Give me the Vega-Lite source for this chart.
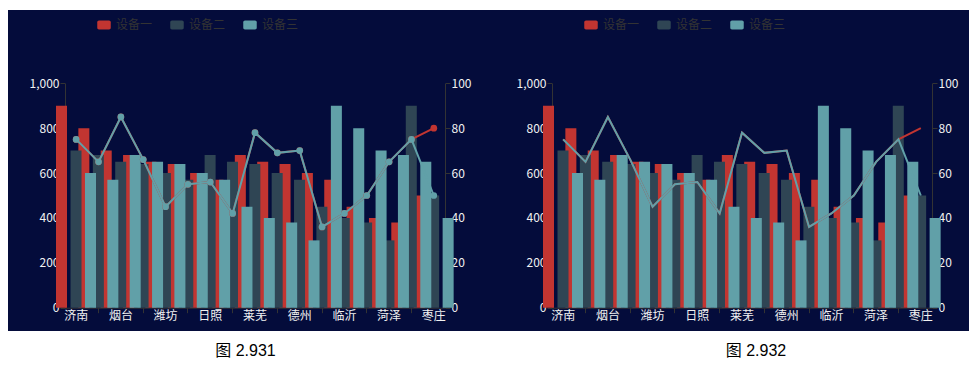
{
  "$schema": "https://vega.github.io/schema/vega-lite/v6.json",
  "background": "#ffffff",
  "padding": {"left": 8, "top": 10, "right": 0, "bottom": 0},
  "autosize": {"type": "pad"},
  "bounds": "flush",
  "spacing": 0,
  "config": {
    "font": "Noto Sans CJK SC",
    "view": {"stroke": null, "fill": "#040c3b"},
    "axis": {"labelFont": "Noto Sans CJK SC", "labelFontSize": 12, "labelColor": "#f2f2f2", "domainColor": "#333333", "tickColor": "#333333", "tickSize": 5, "grid": false, "title": null}
  },
  "datasets": {
    "bars": [
      {"city": "济南", "device": "设备一", "value": 900},
      {"city": "青岛", "device": "设备一", "value": 800},
      {"city": "烟台", "device": "设备一", "value": 700},
      {"city": "威海", "device": "设备一", "value": 680},
      {"city": "潍坊", "device": "设备一", "value": 650},
      {"city": "淄博", "device": "设备一", "value": 640},
      {"city": "日照", "device": "设备一", "value": 600},
      {"city": "东营", "device": "设备一", "value": 570},
      {"city": "莱芜", "device": "设备一", "value": 680},
      {"city": "泰安", "device": "设备一", "value": 650},
      {"city": "德州", "device": "设备一", "value": 640},
      {"city": "聊城", "device": "设备一", "value": 600},
      {"city": "临沂", "device": "设备一", "value": 570},
      {"city": "济宁", "device": "设备一", "value": 450},
      {"city": "菏泽", "device": "设备一", "value": 400},
      {"city": "滨州", "device": "设备一", "value": 380},
      {"city": "枣庄", "device": "设备一", "value": 500},
      {"city": "济南", "device": "设备二", "value": 700},
      {"city": "青岛", "device": "设备二", "value": 680},
      {"city": "烟台", "device": "设备二", "value": 650},
      {"city": "威海", "device": "设备二", "value": 640},
      {"city": "潍坊", "device": "设备二", "value": 600},
      {"city": "淄博", "device": "设备二", "value": 570},
      {"city": "日照", "device": "设备二", "value": 680},
      {"city": "东营", "device": "设备二", "value": 650},
      {"city": "莱芜", "device": "设备二", "value": 640},
      {"city": "泰安", "device": "设备二", "value": 600},
      {"city": "德州", "device": "设备二", "value": 570},
      {"city": "聊城", "device": "设备二", "value": 450},
      {"city": "临沂", "device": "设备二", "value": 400},
      {"city": "济宁", "device": "设备二", "value": 380},
      {"city": "菏泽", "device": "设备二", "value": 300},
      {"city": "滨州", "device": "设备二", "value": 900},
      {"city": "枣庄", "device": "设备二", "value": 500},
      {"city": "济南", "device": "设备三", "value": 600},
      {"city": "青岛", "device": "设备三", "value": 570},
      {"city": "烟台", "device": "设备三", "value": 680},
      {"city": "威海", "device": "设备三", "value": 650},
      {"city": "潍坊", "device": "设备三", "value": 640},
      {"city": "淄博", "device": "设备三", "value": 600},
      {"city": "日照", "device": "设备三", "value": 570},
      {"city": "东营", "device": "设备三", "value": 450},
      {"city": "莱芜", "device": "设备三", "value": 400},
      {"city": "泰安", "device": "设备三", "value": 380},
      {"city": "德州", "device": "设备三", "value": 300},
      {"city": "聊城", "device": "设备三", "value": 900},
      {"city": "临沂", "device": "设备三", "value": 800},
      {"city": "济宁", "device": "设备三", "value": 700},
      {"city": "菏泽", "device": "设备三", "value": 680},
      {"city": "滨州", "device": "设备三", "value": 650},
      {"city": "枣庄", "device": "设备三", "value": 400}
    ],
    "lines": [
      {"city": "济南", "line": "设备一", "value": 75},
      {"city": "青岛", "line": "设备一", "value": 65},
      {"city": "烟台", "line": "设备一", "value": 85},
      {"city": "威海", "line": "设备一", "value": 66},
      {"city": "潍坊", "line": "设备一", "value": 45},
      {"city": "淄博", "line": "设备一", "value": 55},
      {"city": "日照", "line": "设备一", "value": 56},
      {"city": "东营", "line": "设备一", "value": 42},
      {"city": "莱芜", "line": "设备一", "value": 78},
      {"city": "泰安", "line": "设备一", "value": 69},
      {"city": "德州", "line": "设备一", "value": 70},
      {"city": "聊城", "line": "设备一", "value": 36},
      {"city": "临沂", "line": "设备一", "value": 42},
      {"city": "济宁", "line": "设备一", "value": 50},
      {"city": "菏泽", "line": "设备一", "value": 65},
      {"city": "滨州", "line": "设备一", "value": 75},
      {"city": "枣庄", "line": "设备一", "value": 80},
      {"city": "济南", "line": "设备三", "value": 75},
      {"city": "青岛", "line": "设备三", "value": 65},
      {"city": "烟台", "line": "设备三", "value": 85},
      {"city": "威海", "line": "设备三", "value": 66},
      {"city": "潍坊", "line": "设备三", "value": 45},
      {"city": "淄博", "line": "设备三", "value": 55},
      {"city": "日照", "line": "设备三", "value": 56},
      {"city": "东营", "line": "设备三", "value": 42},
      {"city": "莱芜", "line": "设备三", "value": 78},
      {"city": "泰安", "line": "设备三", "value": 69},
      {"city": "德州", "line": "设备三", "value": 70},
      {"city": "聊城", "line": "设备三", "value": 36},
      {"city": "临沂", "line": "设备三", "value": 42},
      {"city": "济宁", "line": "设备三", "value": 50},
      {"city": "菏泽", "line": "设备三", "value": 65},
      {"city": "滨州", "line": "设备三", "value": 75},
      {"city": "枣庄", "line": "设备三", "value": 50}
    ]
  },
  "resolve": {"scale": {"x": "independent", "y": "independent", "color": "independent", "xOffset": "independent"}, "legend": {"color": "independent"}},
  "hconcat": [
    {
      "width": 487,
      "height": 321,
      "title": {"text": "图 2.931", "orient": "bottom", "anchor": "middle", "dx": -6, "offset": 12, "font": "Liberation Sans, Noto Sans CJK SC", "fontSize": 16, "fontWeight": "normal", "color": "#000000"},
      "resolve": {"scale": {"y": "independent"}, "axis": {"x": "independent"}},
      "layer": [
        {
          "data": {"name": "bars"},
          "mark": {"type": "bar"},
          "encoding": {
            "x": {"field": "city", "type": "nominal",
              "scale": {"domain": ["济南","青岛","烟台","威海","潍坊","淄博","日照","东营","莱芜","泰安","德州","聊城","临沂","济宁","菏泽","滨州","枣庄"], "range": [57, 437], "paddingInner": 0, "paddingOuter": 0},
              "axis": {"orient": "bottom", "offset": -23.3, "values": ["济南","烟台","潍坊","日照","莱芜","德州","临沂","菏泽","枣庄"], "ticks": false, "labelPadding": 3, "labelAngle": 0, "labelOverlap": false}},
            "xOffset": {"field": "device", "type": "nominal", "scale": {"domain": ["设备一","设备二","设备三"], "range": [-9, 31], "paddingInner": 0.24, "paddingOuter": 0}},
            "y": {"field": "value", "type": "quantitative", "stack": null,
              "scale": {"domain": [0, 1000], "range": [297.7, 73.3], "nice": false},
              "axis": {"orient": "left", "offset": -57, "values": [0, 200, 400, 600, 800, 1000], "format": ",.0f", "labelPadding": 1}},
            "color": {"field": "device", "type": "nominal",
              "scale": {"domain": ["设备一","设备二","设备三"], "range": ["#c23531", "#2f4554", "#61a0a8"]},
              "legend": {"orient": "none", "legendX": 89, "legendY": 8, "direction": "horizontal", "title": null, "padding": 0,
                "symbolType": "M-0.75,-0.667H0.75A0.25,0.25 0 0 1 1,-0.417V0.417A0.25,0.25 0 0 1 0.75,0.667H-0.75A0.25,0.25 0 0 1 -1,0.417V-0.417A0.25,0.25 0 0 1 -0.75,-0.667Z",
                "symbolSize": 182, "symbolStrokeWidth": 0, "symbolOpacity": 1, "labelColor": "#333333", "labelFontSize": 12, "labelFont": "Noto Sans CJK SC", "labelOffset": 5, "columnPadding": 17}}
          }
        },
        {
          "data": {"name": "lines"},
          "layer": [
            {
              "transform": [{"filter": "datum.line === '设备一'"}],
              "mark": {"type": "line", "color": "#c23531", "strokeWidth": 2, "point": {"filled": true, "size": 45, "color": "#c23531"}},
              "encoding": {
                "x": {"field": "city", "type": "nominal",
                  "axis": {"orient": "bottom", "offset": -23.3, "values": ["青岛","威海","淄博","东营","泰安","聊城","济宁","滨州"], "labels": false, "domain": false, "ticks": true}},
                "y": {"field": "value", "type": "quantitative",
                  "scale": {"domain": [0, 100], "range": [297.7, 73.3], "nice": false},
                  "axis": {"orient": "right", "offset": -50, "values": [0, 10, 20, 30, 40, 50, 60, 70, 80, 90, 100], "labelPadding": 1}}
              }
            },
            {
              "transform": [{"filter": "datum.line === '设备三'"}],
              "mark": {"type": "line", "color": "#61a0a8", "strokeWidth": 2, "point": {"filled": true, "size": 45, "color": "#61a0a8"}},
              "encoding": {
                "x": {"field": "city", "type": "nominal"},
                "y": {"field": "value", "type": "quantitative"}
              }
            }
          ]
        }
      ]
    },
    {
      "width": 474,
      "height": 321,
      "title": {"text": "图 2.932", "orient": "bottom", "anchor": "middle", "dx": 24, "offset": 12, "font": "Liberation Sans, Noto Sans CJK SC", "fontSize": 16, "fontWeight": "normal", "color": "#000000"},
      "resolve": {"scale": {"y": "independent"}, "axis": {"x": "independent"}},
      "layer": [
        {
          "data": {"name": "bars"},
          "mark": {"type": "bar"},
          "encoding": {
            "x": {"field": "city", "type": "nominal",
              "scale": {"domain": ["济南","青岛","烟台","威海","潍坊","淄博","日照","东营","莱芜","泰安","德州","聊城","临沂","济宁","菏泽","滨州","枣庄"], "range": [57, 437], "paddingInner": 0, "paddingOuter": 0},
              "axis": {"orient": "bottom", "offset": -23.3, "values": ["济南","烟台","潍坊","日照","莱芜","德州","临沂","菏泽","枣庄"], "ticks": false, "labelPadding": 3, "labelAngle": 0, "labelOverlap": false}},
            "xOffset": {"field": "device", "type": "nominal", "scale": {"domain": ["设备一","设备二","设备三"], "range": [-9, 31], "paddingInner": 0.24, "paddingOuter": 0}},
            "y": {"field": "value", "type": "quantitative", "stack": null,
              "scale": {"domain": [0, 1000], "range": [297.7, 73.3], "nice": false},
              "axis": {"orient": "left", "offset": -57, "values": [0, 200, 400, 600, 800, 1000], "format": ",.0f", "labelPadding": 1}},
            "color": {"field": "device", "type": "nominal",
              "scale": {"domain": ["设备一","设备二","设备三"], "range": ["#c23531", "#2f4554", "#61a0a8"]},
              "legend": {"orient": "none", "legendX": 89, "legendY": 8, "direction": "horizontal", "title": null, "padding": 0,
                "symbolType": "M-0.75,-0.667H0.75A0.25,0.25 0 0 1 1,-0.417V0.417A0.25,0.25 0 0 1 0.75,0.667H-0.75A0.25,0.25 0 0 1 -1,0.417V-0.417A0.25,0.25 0 0 1 -0.75,-0.667Z",
                "symbolSize": 182, "symbolStrokeWidth": 0, "symbolOpacity": 1, "labelColor": "#333333", "labelFontSize": 12, "labelFont": "Noto Sans CJK SC", "labelOffset": 5, "columnPadding": 17}}
          }
        },
        {
          "data": {"name": "lines"},
          "layer": [
            {
              "transform": [{"filter": "datum.line === '设备一'"}],
              "mark": {"type": "line", "color": "#c23531", "strokeWidth": 2},
              "encoding": {
                "x": {"field": "city", "type": "nominal",
                  "axis": {"orient": "bottom", "offset": -23.3, "values": ["青岛","威海","淄博","东营","泰安","聊城","济宁","滨州"], "labels": false, "domain": false, "ticks": true}},
                "y": {"field": "value", "type": "quantitative",
                  "scale": {"domain": [0, 100], "range": [297.7, 73.3], "nice": false},
                  "axis": {"orient": "right", "offset": -37, "values": [0, 10, 20, 30, 40, 50, 60, 70, 80, 90, 100], "labelPadding": 1}}
              }
            },
            {
              "transform": [{"filter": "datum.line === '设备三'"}],
              "mark": {"type": "line", "color": "#61a0a8", "strokeWidth": 2},
              "encoding": {
                "x": {"field": "city", "type": "nominal"},
                "y": {"field": "value", "type": "quantitative"}
              }
            }
          ]
        }
      ]
    }
  ]
}
